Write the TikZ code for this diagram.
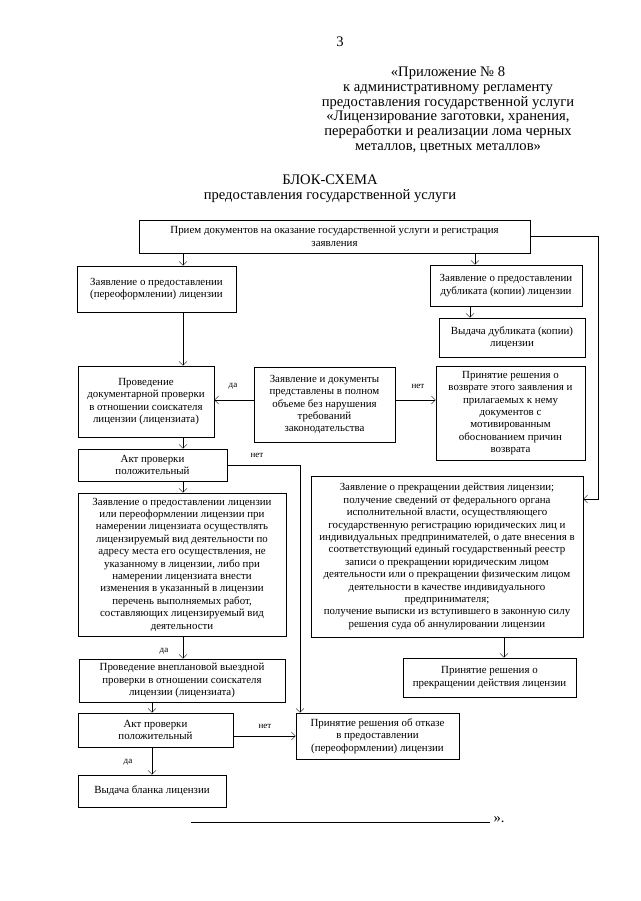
\documentclass[tikz,border=0pt]{standalone}
\usepackage{fontspec}
\setmainfont{Liberation Serif}
\usetikzlibrary{arrows.meta}

\begin{document}
\begin{tikzpicture}
    [x=1pt, y=-1pt,
     block/.style={rectangle, draw, line width=0.6pt, align=center, inner sep=2pt,
                   font=\fontsize{10.9}{12.4}\selectfont},
     answer/.style={font=\fontsize{9}{10}\selectfont, inner sep=0pt},
     heading/.style={align=center, font=\fontsize{14.6}{14.8}\selectfont},
     >={Straight Barb[length=4pt, width=8pt]}]
    \useasboundingbox (0,0) rectangle (640,901);
    \node[heading] (page) at (340,42) {3};
    \node[heading] (appendix) at (448,110) {«Приложение № 8\\к административному регламенту\\предоставления государственной услуги\\«Лицензирование заготовки, хранения,\\переработки и реализации лома черных\\металлов, цветных металлов»};
    \node[heading] (title) at (330,189) {БЛОК-СХЕМА\\предоставления государственной услуги};
    \node[block, minimum width=391, minimum height=33] (priem) at (334.5,236.5) {Прием документов на оказание государственной услуги и регистрация\\заявления};
    \node[block, minimum width=159, minimum height=46] (zayavPred) at (156.5,289) {Заявление о предоставлении\\(переоформлении) лицензии};
    \node[block, minimum width=152, minimum height=41] (dubl) at (506,285.5) {Заявление о предоставлении\\дубликата (копии) лицензии};
    \node[block, minimum width=146, minimum height=39] (vydDubl) at (512,337.5) {Выдача дубликата (копии)\\лицензии};
    \node[block, minimum width=136, minimum height=71] (proved) at (146,401.5) {Проведение\\документарной проверки\\в отношении соискателя\\лицензии (лицензиата)};
    \node[block, minimum width=141, minimum height=75] (zayavDoc) at (324.5,404.5) {Заявление и документы\\представлены в полном\\объеме без нарушения\\требований\\законодательства};
    \node[block, minimum width=149, minimum height=94] (vozvrat) at (510.5,413) {Принятие решения о\\возврате этого заявления и\\прилагаемых к нему\\документов с\\мотивированным\\обоснованием причин\\возврата};
    \node[block, minimum width=149, minimum height=32] (akt1) at (152.5,465) {Акт проверки\\положительный};
    \node[block, minimum width=208, minimum height=143] (bigLeft) at (182,564.5) {Заявление о предоставлении лицензии\\или переоформлении лицензии при\\намерении лицензиата осуществлять\\лицензируемый вид деятельности по\\адресу места его осуществления, не\\указанному в лицензии, либо при\\намерении лицензиата внести\\изменения в указанный в лицензии\\перечень выполняемых работ,\\составляющих лицензируемый вид\\деятельности};
    \node[block, minimum width=272, minimum height=161] (bigRight) at (447,556.5) {Заявление о прекращении действия лицензии;\\получение сведений от федерального органа\\исполнительной власти, осуществляющего\\государственную регистрацию юридических лиц и\\индивидуальных предпринимателей, о дате внесения в\\соответствующий единый государственный реестр\\записи о прекращении юридическим лицом\\деятельности или о прекращении физическим лицом\\деятельности в качестве индивидуального\\предпринимателя;\\получение выписки из вступившего в законную силу\\решения суда об аннулировании лицензии};
    \node[block, minimum width=173, minimum height=39] (prekr) at (489.5,677.5) {Принятие решения о\\прекращении действия лицензии};
    \node[block, minimum width=206, minimum height=43] (vneplan) at (182,680.5) {Проведение внеплановой выездной\\проверки в отношении соискателя\\лицензии (лицензиата)};
    \node[block, minimum width=155, minimum height=34] (akt2) at (155.5,730) {Акт проверки\\положительный};
    \node[block, minimum width=163, minimum height=46] (otkaz) at (377.5,736) {Принятие решения об отказе\\в предоставлении\\(переоформлении) лицензии};
    \node[block, minimum width=148, minimum height=32] (vydBlank) at (152,791) {Выдача бланка лицензии};
    \coordinate (colA) at (183,0);
    \coordinate (colB) at (152,0);
    \coordinate (colC) at (475,0);
    \coordinate (colD) at (470,0);
    \coordinate (colE) at (504,0);
    \coordinate (rowA) at (0,400);
    \coordinate (rightRail) at (598,499);
    \coordinate (midRail) at (300,0);
    \draw[->] (colA |- priem.south) -- (colA |- zayavPred.north);
    \draw[->] (colC |- priem.south) -- (colC |- dubl.north);
    \draw[->] (priem.east) -| (rightRail) -- (rightRail -| bigRight.east);
    \draw[->] (colD |- dubl.south) -- (colD |- vydDubl.north);
    \draw[->] (colA |- zayavPred.south) -- (colA |- proved.north);
    \draw[->] (zayavDoc.west |- rowA) -- (proved.east |- rowA);
    \draw[->] (zayavDoc.east |- rowA) -- (vozvrat.west |- rowA);
    \draw[->] (colA |- proved.south) -- (colA |- akt1.north);
    \draw[->] (colA |- akt1.south) -- (colA |- bigLeft.north);
    \draw[->] (akt1.east) -| (midRail |- otkaz.north);
    \draw[->] (colE |- bigRight.south) -- (colE |- prekr.north);
    \draw[->] (colA |- bigLeft.south) -- (colA |- vneplan.north);
    \draw[->] (colB |- vneplan.south) -- (colB |- akt2.north);
    \draw[->] (akt2.east |- otkaz.west) -- (otkaz.west);
    \draw[->] (colB |- akt2.south) -- (colB |- vydBlank.north);
    \node[answer] (yes1) at (233,386) {да};
    \node[answer] (no1) at (418,386) {нет};
    \node[answer] (no2) at (257,455) {нет};
    \node[answer] (yes2) at (164,651) {да};
    \node[answer] (no3) at (265,726) {нет};
    \node[answer] (yes3) at (128,762) {да};
    \coordinate (signL) at (191,822);
    \node[heading, anchor=base west] (closing) at (490,822) {».};
    \draw[line width=0.6pt] (signL) -- (signL -| closing.west);
\end{tikzpicture}
\end{document}
